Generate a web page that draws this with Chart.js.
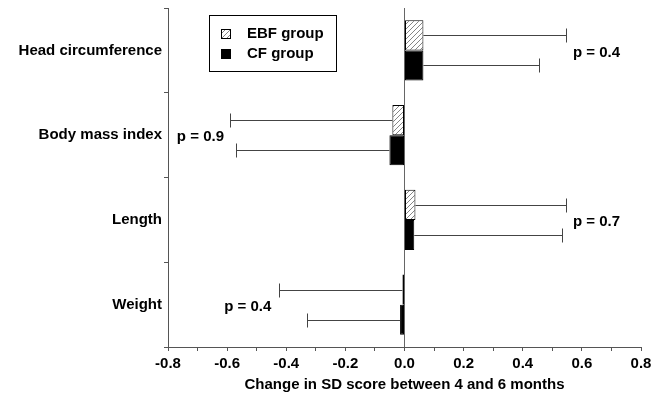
<!DOCTYPE html>
<html>
<head>
<meta charset="utf-8">
<script src="https://cdn.jsdelivr.net/npm/chart.js@4"></script>
<style>
  html, body { margin: 0; padding: 0; background: #fff; }
  #wrap { width: 662px; height: 398px; }
</style>
</head>
<body>
<div id="wrap"><canvas id="chart" width="662" height="398"></canvas></div>
<script>
// Data
const categories = ['Head circumference', 'Body mass index', 'Length', 'Weight'];
const ebfMean = [0.064, -0.041, 0.037, -0.007];
const cfMean = [0.064, -0.051, 0.033, -0.015];
const ebfErr = [0.546, -0.59, 0.546, -0.423];
const cfErr = [0.456, -0.57, 0.532, -0.33];
const pLabels = ['p = 0.4', 'p = 0.9', 'p = 0.7', 'p = 0.4'];
const pLabelX = [0.57, -0.77, 0.57, -0.61];
const seriesNames = ['EBF group', 'CF group'];

const FONT = '"Liberation Sans", Arial, sans-serif';

// diagonal hatch for the EBF bars
function hatch() {
    const c = document.createElement('canvas');
    c.width = 5; c.height = 5;
    const g = c.getContext('2d');
    g.fillStyle = '#fff';
    g.fillRect(0, 0, 5, 5);
    g.strokeStyle = '#666';
    g.lineWidth = 0.8;
    g.beginPath();
    g.moveTo(0, 5); g.lineTo(5, 0);
    g.moveTo(-1, 1); g.lineTo(1, -1);
    g.moveTo(4, 6); g.lineTo(6, 4);
    g.stroke();
    return g.createPattern(c, 'repeat');
}
const hatchFill = hatch();

const errors = [ebfErr, cfErr];

const extras = {
    id: 'extras',
    afterDatasetsDraw(chart) {
        const ctx = chart.ctx;
        const x = chart.scales.x;
        const y = chart.scales.y;
        ctx.save();
        // error bars
        ctx.strokeStyle = '#444';
        ctx.lineWidth = 1;
        errors.forEach((errs, d) => {
            const meta = chart.getDatasetMeta(d);
            meta.data.forEach((bar, i) => {
                const ex = Math.round(x.getPixelForValue(errs[i])) + 0.5;
                const by = Math.round(bar.y) + 0.5;
                ctx.beginPath();
                ctx.moveTo(bar.x, by);
                ctx.lineTo(ex, by);
                ctx.moveTo(ex, by - 7);
                ctx.lineTo(ex, by + 7);
                ctx.stroke();
            });
        });
        // p values
        ctx.fillStyle = '#000';
        ctx.font = 'bold 15px ' + FONT;
        ctx.textAlign = 'left';
        ctx.textBaseline = 'middle';
        pLabels.forEach((t, i) => {
            ctx.fillText(t, x.getPixelForValue(pLabelX[i]), y.getPixelForValue(i) + 2);
        });
        // legend box
        const a = chart.chartArea;
        const lx = a.left + 41, ly = a.top + 7;
        ctx.strokeStyle = '#000';
        ctx.strokeRect(lx + 0.5, ly + 0.5, 127, 56);
        const fills = [hatchFill, '#000'];
        seriesNames.forEach((name, i) => {
            const sy = ly + 19 + i * 20;
            ctx.fillStyle = fills[i];
            ctx.fillRect(lx + 12, sy - 5, 10, 10);
            ctx.strokeStyle = '#000';
            ctx.strokeRect(lx + 12.5, sy - 4.5, 9, 9);
            ctx.fillStyle = '#000';
            ctx.fillText(name, lx + 38, sy);
        });
        ctx.restore();
    }
};

new Chart(document.getElementById('chart'), {
    type: 'bar',
    data: {
        labels: categories,
        datasets: [
            {
                label: seriesNames[0],
                data: ebfMean,
                backgroundColor: hatchFill,
                borderColor: '#000',
                borderWidth: 1,
                borderSkipped: false
            },
            {
                label: seriesNames[1],
                data: cfMean,
                backgroundColor: '#000',
                borderColor: '#000',
                borderWidth: 1,
                borderSkipped: false
            }
        ]
    },
    options: {
        indexAxis: 'y',
        responsive: false,
        animation: false,
        categoryPercentage: 0.71,
        barPercentage: 1.0,
        layout: { padding: { top: 8, right: 21, left: 0, bottom: 0 } },
        scales: {
            x: {
                min: -0.8,
                max: 0.8,
                afterFit: (s) => { s.height = 51; },
                ticks: {
                    stepSize: 0.1,
                    autoSkip: false,
                    maxRotation: 0,
                    color: '#000',
                    font: { family: FONT, size: 15, weight: 'bold' },
                    padding: 4,
                    callback: (v) => {
                        const n = Math.round(v * 10);
                        return n % 2 === 0 ? (n / 10).toFixed(1) : '';
                    }
                },
                grid: {
                    drawOnChartArea: true,
                    color: (c) => (c.tick && Math.abs(c.tick.value) < 1e-9 ? '#666' : 'rgba(0,0,0,0)'),
                    tickColor: '#555',
                    tickLength: 4
                },
                border: { display: true, color: '#555' },
                title: {
                    display: true,
                    text: 'Change in SD score between 4 and 6 months',
                    color: '#000',
                    font: { family: FONT, size: 15, weight: 'bold' },
                    padding: { top: 6 }
                }
            },
            y: {
                afterFit: (s) => { s.width = 168; s.paddingTop = 0; s.paddingBottom = 0; },
                ticks: {
                    color: '#000',
                    font: { family: FONT, size: 15, weight: 'bold' },
                    padding: 2
                },
                grid: {
                    drawOnChartArea: false,
                    offset: true,
                    tickColor: '#555',
                    tickLength: 4
                },
                border: { display: true, color: '#555' }
            }
        },
        plugins: {
            legend: { display: false },
            tooltip: { enabled: false }
        }
    },
    plugins: [extras]
});
</script>
</body>
</html>
